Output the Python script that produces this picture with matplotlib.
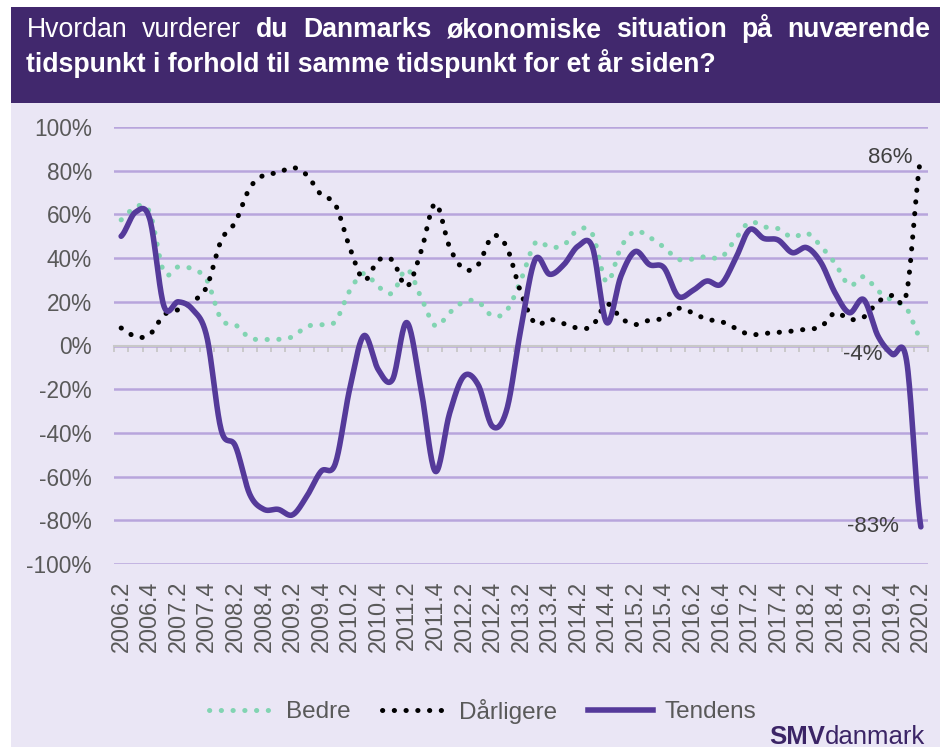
import numpy as np
import matplotlib
matplotlib.use('Agg')
import matplotlib.pyplot as plt
from matplotlib.lines import Line2D
from matplotlib.patches import Rectangle

plt.rcParams['font.family'] = ['Liberation Sans', 'DejaVu Sans']

categories = ["2006.2", "2006.3", "2006.4", "2007.1", "2007.2", "2007.3", "2007.4",
              "2008.1", "2008.2", "2008.3", "2008.4", "2009.1", "2009.2", "2009.3", "2009.4",
              "2010.1", "2010.2", "2010.3", "2010.4", "2011.1", "2011.2", "2011.3", "2011.4",
              "2012.1", "2012.2", "2012.3", "2012.4", "2013.1", "2013.2", "2013.3", "2013.4",
              "2014.1", "2014.2", "2014.3", "2014.4", "2015.1", "2015.2", "2015.3", "2015.4",
              "2016.1", "2016.2", "2016.3", "2016.4", "2017.1", "2017.2", "2017.3", "2017.4",
              "2018.1", "2018.2", "2018.3", "2018.4", "2019.1", "2019.2", "2019.3", "2019.4",
              "2020.1", "2020.2"]

bedre = [57.5, 63.5, 61, 33.5, 36, 35, 30, 12, 9.5, 3.5, 2.8, 2.8, 4, 8.7, 9.5, 11,
         25, 33, 27, 24, 35, 22, 9, 15, 20, 20, 13.5, 16, 30, 47, 45, 46, 53, 51, 29,
         45, 52.3, 49.5, 45, 39.5, 39.5, 40.8, 40.2, 48.5, 56.5, 54.3, 53.5, 49.5, 51.5,
         45.5, 37.5, 27.5, 31.5, 25, 20.5, 17, 3]

darligere = [8, 4, 5, 14, 16.4, 20, 27, 48, 56.5, 72, 78, 79, 81.5, 78, 69, 64.5, 45,
             30, 39, 39, 27, 43, 65, 45, 35, 37, 50, 45, 24, 10, 12, 10, 8, 9, 19, 12.5,
             9.6, 11.6, 12.5, 17, 15, 12, 11, 8, 5, 5.5, 6, 6.6, 7.5, 8.5, 15, 12, 13, 20,
             23, 24, 86]

tendens = [50, 61, 58, 18, 20, 16.5, 4, -38.5, -46, -68, -75, -75, -77.5, -69, -57.6,
           -54, -20, 4.5, -11, -15.6, 10.5, -20, -57.6, -31, -14, -18, -37, -29.4, 8,
           39.4, 32.6, 37, 45.5, 45, 10.5, 31.8, 43, 37, 35.7, 22.6, 25, 29.5, 28, 39.4,
           53, 49, 48.3, 42.5, 44.8, 38, 24, 15, 21, 4.3, -4, -7, -83]

series_names = ["Bedre", "Dårligere", "Tendens"]
y_ticks = [100, 80, 60, 40, 20, 0, -20, -40, -60, -80, -100]

GREEN = '#82D4B2'
BLACK = '#000000'
PURPLE = '#553A9A'
BAND = '#41286D'
PANEL = '#EAE6F5'
GRID = '#B8A5DC'
TXT = '#595959'


def smooth(vals, n=20):
    v = np.asarray(vals, float)
    p = np.concatenate([[v[0]], v, [v[-1]]])
    xs, ys = [], []
    t = np.linspace(0, 1, n, endpoint=False)
    for i in range(len(v) - 1):
        p0, p1, p2, p3 = p[i], p[i + 1], p[i + 2], p[i + 3]
        yy = 0.5 * (2 * p1 + (-p0 + p2) * t + (2 * p0 - 5 * p1 + 4 * p2 - p3) * t ** 2
                    + (-p0 + 3 * p1 - 3 * p2 + p3) * t ** 3)
        xs.append(i + t)
        ys.append(yy)
    xs.append([len(v) - 1])
    ys.append([v[-1]])
    return np.concatenate(xs), np.concatenate(ys)


W, H = 944, 749
fig = plt.figure(figsize=(W / 100, H / 100), dpi=100)

bg = fig.add_axes([0, 0, 1, 1], zorder=-10)
bg.set_xlim(0, W)
bg.set_ylim(H, 0)
bg.axis('off')
bg.add_patch(Rectangle((11, 103), 929, 644, color=PANEL, lw=0))
bg.add_patch(Rectangle((11, 7), 929, 96, color=BAND, lw=0))

renderer = fig.canvas.get_renderer()


def justify(words, y, x0, x1, size):
    objs = [bg.text(0, y, w, fontsize=size, fontweight=wt, color='white',
                    va='baseline', ha='left') for w, wt in words]
    widths = [o.get_window_extent(renderer).width for o in objs]
    gap = (x1 - x0 - sum(widths)) / (len(objs) - 1)
    x = x0
    for o, w in zip(objs, widths):
        o.set_x(x)
        x += w + gap


line1 = [("Hvordan", 'normal'), ("vurderer", 'normal'), ("du", 'bold'),
         ("Danmarks", 'bold'), ("økonomiske", 'bold'), ("situation", 'bold'),
         ("på", 'bold'), ("nuværende", 'bold')]
justify(line1, 37, 27, 930, 19.2)
bg.text(26, 72, "tidspunkt i forhold til samme tidspunkt for et år siden?",
        fontsize=19.2, fontweight='bold', color='white', va='baseline', ha='left')

# main axes
ax = fig.add_axes([114 / W, (H - 564) / H, 814 / W, 437 / H])
ax.set_facecolor('none')
x = np.arange(len(categories))
ax.set_xlim(-0.5, len(categories) - 0.5)
ax.set_ylim(-100, 100)

for s in ['top', 'right', 'left']:
    ax.spines[s].set_visible(False)
ax.spines['bottom'].set_position(('data', 0))
ax.spines['bottom'].set_color('#C8C8C8')
ax.spines['bottom'].set_linewidth(1.5)
ax.set_xticks(np.arange(-0.5, len(categories), 1))
ax.tick_params(axis='x', length=4.3, width=1.3, color='#C8C8C8', labelbottom=False,
               direction='out')
ax.set_yticks(y_ticks)
ax.set_yticklabels([f"{v}%" for v in y_ticks])
ax.tick_params(axis='y', length=0, pad=16, labelsize=16.3, labelcolor=TXT)
ax.yaxis.grid(True, color=GRID, lw=1.8)
ax.xaxis.grid(False)
ax.set_axisbelow(True)

sec = ax.secondary_xaxis('bottom')
sec.set_xticks(x[::2], labels=categories[::2])
sec.tick_params(length=0, pad=12, labelsize=16.8, labelcolor=TXT, labelrotation=90)
sec.spines['bottom'].set_visible(False)

dot = (0, (0.05, 2.3))
xs, ys = smooth(bedre)
ax.plot(xs, ys, color=GREEN, lw=3.6, ls=dot, dash_capstyle='round', zorder=3)
xs, ys = smooth(darligere)
ax.plot(xs, ys, color=BLACK, lw=3.6, ls=dot, dash_capstyle='round', zorder=4)
xs, ys = smooth(tendens)
ax.plot(xs, ys, color=PURPLE, lw=4.0, solid_capstyle='round', zorder=5)

lab_kw = dict(textcoords='offset points', ha='right', va='center', fontsize=16,
              color='#404040', zorder=6)
ax.annotate(f"{darligere[-1]:.0f}%", (x[-1], darligere[-1]), xytext=(-6.3, 0), **lab_kw)
ax.annotate(f"{tendens[-1]:.0f}%", (x[-1], tendens[-1]), xytext=(-15.7, 0), **lab_kw)
ax.annotate(f"{tendens[-3]:.0f}%", (x[-3], tendens[-3]), xytext=(-7.2, 0), **lab_kw)

handles = [Line2D([], [], color=GREEN, lw=3.6, ls=dot, dash_capstyle='round'),
           Line2D([], [], color=BLACK, lw=3.6, ls=dot, dash_capstyle='round'),
           Line2D([], [], color=PURPLE, lw=4.0)]
fig.legend(handles, series_names, loc='center', bbox_to_anchor=(483 / W, 1 - 711 / H),
           ncol=3, frameon=False, fontsize=17.5, handlelength=2.65, handletextpad=0.5,
           columnspacing=1.3, labelcolor=TXT)

t2 = bg.text(925, 744, "danmark", ha='right', va='baseline', fontsize=18.5, color='#3B2466')
w2 = t2.get_window_extent(renderer).width
bg.text(925 - w2, 744, "SMV", ha='right', va='baseline', fontsize=18.5,
        fontweight='bold', color='#3B2466')

fig.savefig('out.png', dpi=100)
